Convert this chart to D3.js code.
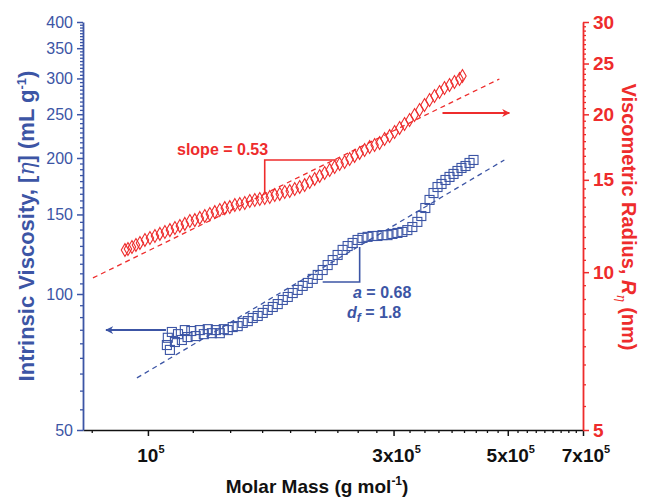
<!DOCTYPE html>
<html>
<head>
<meta charset="utf-8">
<script src="https://cdn.jsdelivr.net/npm/d3@7"></script>
<style>
body { margin: 0; background: #fff; }
text { font-family: "Liberation Sans", Arial, sans-serif; }
</style>
</head>
<body>
<div id="chart"></div>
<script>
// molar mass in units of 1e5 g/mol
const blueMass = [1.0885, 1.093, 1.1033, 1.113, 1.1283, 1.144, 1.164, 1.1795, 1.194, 1.214, 1.238, 1.2613,
  1.284, 1.307, 1.331, 1.355, 1.3791, 1.404, 1.429, 1.461, 1.494, 1.528, 1.563, 1.598, 1.634, 1.671,
  1.709, 1.748, 1.787, 1.828, 1.869, 1.911, 1.954, 1.998, 2.044, 2.090, 2.137, 2.185, 2.234, 2.285,
  2.336, 2.389, 2.443, 2.498, 2.554, 2.611, 2.671, 2.731, 2.792, 2.855, 2.920, 2.985, 3.053, 3.121,
  3.191, 3.263, 3.337, 3.397, 3.458, 3.524, 3.587, 3.652, 3.718, 3.784, 3.853, 3.923, 3.993, 4.065,
  4.139, 4.214, 4.290];
const blueVisc = [77.1, 80.0, 75.2, 82.4, 78.3, 81.5, 79.1, 83.2, 80.3, 82.8, 80.7, 83.2,
  81.5, 83.6, 81.9, 83.2, 81.9, 83.6, 83.2, 84.5, 84.9, 86.3, 87.1, 88.5, 89.4, 90.8,
  92.2, 93.6, 95.0, 97.0, 98.5, 100.5, 102.1, 104.2, 105.8, 108.0, 110.2, 113.0, 115.9, 118.9,
  122.0, 125.2, 127.7, 129.7, 131.7, 133.1, 133.8, 134.4, 134.4, 135.0, 135.0, 135.8, 136.5, 137.2,
  138.5, 140.7, 144.4, 148.8, 155.0, 161.5, 167.3, 172.5, 175.2, 178.8, 181.6, 184.4, 187.2, 190.1,
  192.0, 195.0, 198.0];

const redMass = [0.9024, 0.9146, 0.9311, 0.9478, 0.9649, 0.9867, 1.0090, 1.0318, 1.0550, 1.0789, 1.1033,
  1.1283, 1.1535, 1.1795, 1.2062, 1.2334, 1.2613, 1.2897, 1.3189, 1.3486, 1.3791, 1.4102, 1.4421,
  1.4750, 1.5079, 1.5422, 1.5770, 1.6127, 1.6490, 1.6862, 1.7244, 1.7635, 1.8031, 1.8440, 1.8855,
  1.9281, 1.9716, 2.0160, 2.0617, 2.1082, 2.1559, 2.2045, 2.2544, 2.3053, 2.3574, 2.4108, 2.4651,
  2.5206, 2.5777, 2.6357, 2.6955, 2.7562, 2.8186, 2.8822, 2.9474, 3.0140, 3.0821, 3.1515, 3.2229,
  3.2955, 3.3701, 3.4458, 3.5241, 3.6031, 3.6851, 3.7677, 3.8534, 3.9397, 4.0295, 4.0825];
const redRadius = [11.02, 11.07, 11.17, 11.27, 11.37, 11.52, 11.62, 11.72, 11.83, 11.93, 12.03,
  12.14, 12.25, 12.36, 12.52, 12.57, 12.69, 12.80, 12.91, 13.02, 13.14, 13.25, 13.31,
  13.43, 13.49, 13.55, 13.67, 13.73, 13.79, 13.85, 13.91, 14.03, 14.10, 14.22, 14.28,
  14.41, 14.54, 14.66, 14.86, 15.06, 15.26, 15.46, 15.66, 15.87, 16.08, 16.22, 16.44,
  16.66, 16.88, 17.10, 17.33, 17.48, 17.63, 17.95, 18.18, 18.51, 18.84, 19.17, 19.51,
  19.94, 20.38, 20.84, 21.30, 21.68, 22.06, 22.45, 22.75, 23.05, 23.36, 23.67];

// power-law fit lines (end points)
const blueFitMass = [0.952, 4.924];
const blueFitVisc = [65.2, 198];
const redFitMass = [0.782, 4.816];
const redFitRadius = [9.75, 23.36];

// slope triangles
const blueTriMass = [2.185, 2.578, 2.578];
const blueTriVisc = [106.3, 106.3, 127.1];
const redTriMass = [2.326, 1.686, 1.686];
const redTriRadius = [16.37, 16.37, 14.16];

// axis arrows
const blueArrowMass = [1.084, 0.829];
const blueArrowVisc = [83.2, 83.2];
const redArrowMass = [3.734, 5.036];
const redArrowRadius = [20.12, 20.12];

const xTicks = [1, 3, 5, 7];
const xTickLabels = ["10", "3x10", "5x10", "7x10"];
const leftTicks = [50, 100, 150, 200, 250, 300, 350, 400];
const rightTicks = [5, 10, 15, 20, 25, 30];

const BLUE = "#3c55a5";
const RED = "#ee2c2c";

const W = 650, H = 497;
const plot = { left: 83, right: 583, top: 22, bottom: 430 };

const svg = d3.select("#chart").append("svg")
  .attr("width", W).attr("height", H);

const defs = svg.append("defs");
[["arrowBlue", BLUE], ["arrowRed", RED]].forEach(([id, c]) => {
  defs.append("marker")
    .attr("id", id)
    .attr("viewBox", "0 0 10 10")
    .attr("refX", 9).attr("refY", 5)
    .attr("markerWidth", 8).attr("markerHeight", 8)
    .attr("markerUnits", "userSpaceOnUse")
    .attr("orient", "auto")
    .append("path")
    .attr("d", "M0,0 L10,5 L0,10 L3,5 Z")
    .attr("fill", c);
});

const x = d3.scaleLog().domain([0.748, 7]).range([plot.left, plot.right]);
const yL = d3.scaleLog().domain([50, 400]).range([plot.bottom, plot.top]);
const yR = d3.scaleLog().domain([5, 30]).range([plot.bottom, plot.top]);

function minorsBetween(ticks, lo, hi) {
  const out = [];
  for (let i = 0; i < ticks.length - 1; i++) {
    const step = (ticks[i + 1] - ticks[i]) / 9;
    for (let k = 1; k < 9; k++) out.push(ticks[i] + k * step);
  }
  const s0 = (ticks[1] - ticks[0]) / 9;
  for (let v = ticks[0] - s0; v > lo; v -= s0) out.push(v);
  return out.filter(v => v > lo && v < hi);
}

// ---- bottom axis
const gx = svg.append("g").attr("transform", `translate(0,${plot.bottom})`);
gx.call(d3.axisBottom(x).tickValues(minorsBetween(xTicks, 0.748, 7)).tickSize(3).tickFormat("").tickSizeOuter(0));
gx.call(g => g.select(".domain").remove());
const gx2 = svg.append("g").attr("transform", `translate(0,${plot.bottom})`);
gx2.call(d3.axisBottom(x).tickValues(xTicks).tickSize(6).tickSizeOuter(0).tickFormat(""));
gx2.select(".domain").attr("stroke", "#111").attr("stroke-width", 1.6);
gx.selectAll("line").attr("stroke", "#111").attr("stroke-width", 1.3);
gx2.selectAll(".tick line").attr("stroke", "#111").attr("stroke-width", 1.5);

const xl = svg.append("g");
xTicks.forEach((t, i) => {
  const tx = xl.append("text")
    .attr("x", x(t) + 3).attr("y", 462)
    .attr("text-anchor", "middle")
    .attr("font-size", 19).attr("font-weight", "bold").attr("fill", "#111");
  tx.append("tspan").text(xTickLabels[i]);
  tx.append("tspan").attr("dy", -9).attr("font-size", 11).text("5");
});

// ---- left axis
const gyl = svg.append("g").attr("transform", `translate(${plot.left},0)`);
gyl.call(d3.axisLeft(yL).tickValues(minorsBetween(leftTicks, 50, 400)).tickSize(3).tickFormat("").tickSizeOuter(0));
gyl.select(".domain").remove();
gyl.selectAll("line").attr("stroke", BLUE).attr("stroke-width", 1.3);
const gyl2 = svg.append("g").attr("transform", `translate(${plot.left},0)`);
gyl2.call(d3.axisLeft(yL).tickValues(leftTicks).tickSize(6).tickPadding(4).tickSizeOuter(0).tickFormat(d3.format("d")));
gyl2.select(".domain").attr("stroke", BLUE).attr("stroke-width", 1.8);
gyl2.selectAll(".tick line").attr("stroke", BLUE).attr("stroke-width", 1.5);
gyl2.selectAll("text").attr("fill", BLUE).attr("font-size", 16)
  .attr("font-family", "'Liberation Sans', Arial, sans-serif");

// ---- right axis
const gyr = svg.append("g").attr("transform", `translate(${plot.right},0)`);
gyr.call(d3.axisRight(yR).tickValues(minorsBetween(rightTicks, 5, 30)).tickSize(3).tickFormat("").tickSizeOuter(0));
gyr.select(".domain").remove();
gyr.selectAll("line").attr("stroke", RED).attr("stroke-width", 1.3);
const gyr2 = svg.append("g").attr("transform", `translate(${plot.right},0)`);
gyr2.call(d3.axisRight(yR).tickValues(rightTicks).tickSize(6).tickPadding(4).tickSizeOuter(0).tickFormat(d3.format("d")));
gyr2.select(".domain").attr("stroke", RED).attr("stroke-width", 1.8);
gyr2.selectAll(".tick line").attr("stroke", RED).attr("stroke-width", 1.5);
gyr2.selectAll("text").attr("fill", RED).attr("font-size", 19).attr("font-weight", "bold")
  .attr("font-family", "'Liberation Sans', Arial, sans-serif");

// ---- axis titles
const lt = svg.append("text")
  .attr("transform", "translate(34,226) rotate(-90)")
  .attr("text-anchor", "middle")
  .attr("font-size", 22).attr("font-weight", "bold").attr("fill", BLUE);
lt.append("tspan").text("Intrinsic Viscosity, [");
lt.append("tspan").attr("font-style", "italic").attr("font-family", "'DejaVu Serif', serif").attr("font-weight", "normal").text("η");
lt.append("tspan").text("] (mL g");
lt.append("tspan").attr("dy", -8).attr("font-size", 13).text("-1");
lt.append("tspan").attr("dy", 8).text(")");

const rt = svg.append("text")
  .attr("transform", "translate(622,217) rotate(90)")
  .attr("text-anchor", "middle")
  .attr("font-size", 20).attr("font-weight", "bold").attr("fill", RED);
rt.append("tspan").text("Viscometric Radius, ");
rt.append("tspan").attr("font-style", "italic").text("R");
rt.append("tspan").attr("dy", 5).attr("font-size", 12).attr("font-style", "italic")
  .attr("font-family", "'DejaVu Serif', serif").attr("font-weight", "normal").text("η");
rt.append("tspan").attr("dy", -5).text(" (nm)");

const bt = svg.append("text")
  .attr("x", 317).attr("y", 493)
  .attr("text-anchor", "middle")
  .attr("font-size", 19).attr("font-weight", "bold").attr("fill", "#111");
bt.append("tspan").text("Molar Mass (g mol");
bt.append("tspan").attr("dy", -8).attr("font-size", 12).text("-1");
bt.append("tspan").attr("dy", 8).text(")");

// ---- fit lines
const fitLine = (mx, my, ys) => d3.line().x((d, i) => x(mx[i])).y((d, i) => ys(my[i]))(mx);
svg.append("path").attr("d", fitLine(redFitMass, redFitRadius, yR))
  .attr("stroke", RED).attr("stroke-width", 1.3).attr("stroke-dasharray", "5,4").attr("fill", "none");
svg.append("path").attr("d", fitLine(blueFitMass, blueFitVisc, yL))
  .attr("stroke", BLUE).attr("stroke-width", 1.3).attr("stroke-dasharray", "5,4").attr("fill", "none");

// ---- data markers
svg.append("g").selectAll("path")
  .data(redMass.map((m, i) => [m, redRadius[i]]))
  .join("path")
  .attr("transform", d => `translate(${x(d[0])},${yR(d[1])})`)
  .attr("d", d3.symbol(d3.symbolDiamond, 48))
  .attr("fill", "none").attr("stroke", RED).attr("stroke-width", 1.1);

svg.append("g").selectAll("rect")
  .data(blueMass.map((m, i) => [m, blueVisc[i]]))
  .join("rect")
  .attr("x", d => x(d[0]) - 4.5).attr("y", d => yL(d[1]) - 4.5)
  .attr("width", 9).attr("height", 9)
  .attr("fill", "none").attr("stroke", BLUE).attr("stroke-width", 1.1);

// ---- slope triangles
svg.append("path").attr("d", fitLine(blueTriMass, blueTriVisc, yL))
  .attr("stroke", BLUE).attr("stroke-width", 1.6).attr("fill", "none");
svg.append("path").attr("d", fitLine(redTriMass, redTriRadius, yR))
  .attr("stroke", RED).attr("stroke-width", 1.6).attr("fill", "none");

// ---- arrows
svg.append("path").attr("d", fitLine(blueArrowMass, blueArrowVisc, yL))
  .attr("stroke", BLUE).attr("stroke-width", 2).attr("marker-end", "url(#arrowBlue)");
svg.append("path").attr("d", fitLine(redArrowMass, redArrowRadius, yR))
  .attr("stroke", RED).attr("stroke-width", 2).attr("marker-end", "url(#arrowRed)");

// ---- annotations
svg.append("text").attr("x", 177).attr("y", 155)
  .attr("font-size", 16).attr("font-weight", "bold").attr("fill", RED)
  .text("slope = 0.53");

const a1 = svg.append("text").attr("x", 353).attr("y", 298)
  .attr("font-size", 16).attr("font-weight", "bold").attr("fill", BLUE);
a1.append("tspan").attr("font-style", "italic").text("a");
a1.append("tspan").text(" = 0.68");

const a2 = svg.append("text").attr("x", 347).attr("y", 318)
  .attr("font-size", 16).attr("font-weight", "bold").attr("fill", BLUE);
a2.append("tspan").attr("font-style", "italic").text("d");
a2.append("tspan").attr("dy", 4).attr("font-size", 12).attr("font-style", "italic").text("f");
a2.append("tspan").attr("dy", -4).text(" = 1.8");
</script>
</body>
</html>
